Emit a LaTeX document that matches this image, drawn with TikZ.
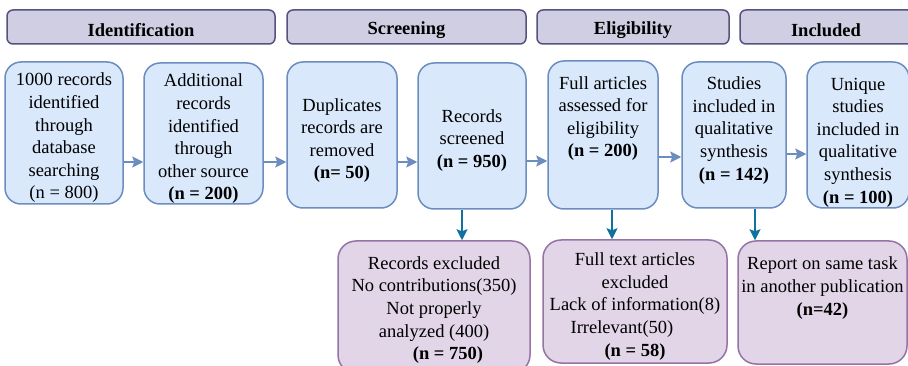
\documentclass[tikz,border=0pt]{standalone}
\usepackage{fontspec}
\setmainfont{Liberation Serif}
\usetikzlibrary{arrows.meta}
\definecolor{bfill}{HTML}{DAE8FC}
\definecolor{bdraw}{HTML}{6C8EBF}
\definecolor{hfill}{HTML}{D0CEE2}
\definecolor{hdraw}{HTML}{56517E}
\definecolor{pfill}{HTML}{E1D5E7}
\definecolor{pdraw}{HTML}{9673A6}
\definecolor{darr}{HTML}{10739E}
\tikzset{
  hdr/.style={draw=hdraw, fill=hfill, line width=1.5pt, rounded corners=6pt},
  bluebox/.style={draw=bdraw, fill=bfill, line width=1.5pt, rounded corners=16pt},
  purpbox/.style={draw=pdraw, fill=pfill, line width=1.5pt, rounded corners=18pt},
  txt/.style={inner sep=0pt, align=center, font=\fontsize{18.5}{22.6}\selectfont},
  htxt/.style={inner sep=0pt, font=\fontsize{18.5}{22.6}\selectfont\bfseries},
  harrow/.style={draw=bdraw, line width=1.5pt, -{Stealth[length=11pt,width=11pt,inset=2pt]}},
  varrow/.style={draw=darr, line width=1.5pt, -{Stealth[length=11pt,width=11pt,inset=2pt]}},
}
\begin{document}
\begin{tikzpicture}[x=1pt,y=-1pt]
\useasboundingbox (0,0) rectangle (908,366);
\begin{scope}
\clip (0,0) rectangle (908,366);
% headers
\draw[hdr] (7,10) rectangle (275,44);
\draw[hdr] (287,10) rectangle (526,44);
\draw[hdr] (537,10) rectangle (729,44);
\draw[hdr] (740,10) rectangle (920,44);
\node[htxt] (h1) at (141,30) {Identification};
\node[htxt] (h2) at (406.5,30) {Screening};
\node[htxt] (h3) at (633,30) {Eligibility};
\node[htxt] (h4) at (826,30) {Included};
% top boxes
\node[bluebox, minimum width=118pt, minimum height=142pt] (b1) at (64,133) {};
\node[bluebox, minimum width=119pt, minimum height=141pt] (b2) at (203.5,133.5) {};
\node[bluebox, minimum width=110pt, minimum height=146pt] (b3) at (342,135) {};
\node[bluebox, minimum width=108pt, minimum height=146pt] (b4) at (472,136) {};
\node[bluebox, minimum width=110pt, minimum height=148pt] (b5) at (603,135) {};
\node[bluebox, minimum width=104pt, minimum height=146pt] (b6) at (734,135) {};
\node[bluebox, minimum width=102pt, minimum height=146pt] (b7) at (858,135) {};
\node[txt] (t1) at (64,138) {1000 records\\identified\\through\\database\\searching\\(n = 800)};
\node[txt] (t2) at (203.5,139) {Additional\\records\\identified\\through\\other source\\\textbf{(n = 200)}};
\node[txt] (t3) at (342,140.5) {Duplicates\\records are\\removed\\\textbf{(n= 50)}};
\node[txt] (t4) at (472,140.5) {Records\\screened\\\textbf{(n = 950)}};
\node[txt] (t5) at (603,118.5) {Full articles\\assessed for\\eligibility\\\textbf{(n = 200)}};
\node[txt] (t6) at (734,130.5) {Studies\\included in\\qualitative\\synthesis\\\textbf{(n = 142)}};
\node[txt] (t7) at (858,142.5) {Unique\\studies\\included in\\qualitative\\synthesis\\\textbf{(n = 100)}};
% bottom boxes
\node[purpbox, minimum width=192pt, minimum height=132pt] (pa) at (434,307) {};
\node[purpbox, minimum width=184pt, minimum height=123pt] (pb) at (635,301.5) {};
\node[purpbox, minimum width=169pt, minimum height=123pt] (pc) at (822.5,302.5) {};
\node[txt] (ta) at (434,310) {Records excluded\\No contributions(350)\\Not properly\\analyzed (400)\\\hspace*{28pt}\textbf{(n = 750)}};
\node[txt] (tb) at (635,306.5) {Full text articles\\excluded\\Lack of information(8)\\\hspace*{-26pt}Irrelevant(50)\\\textbf{(n = 58)}};
\node[txt] (tc) at (822.5,288) {Report on same task\\in another publication\\\textbf{(n=42)}};
% horizontal arrows
\draw[harrow] (b1.east |- 0,162) -- (b2.west |- 0,162);
\draw[harrow] (b2.east |- 0,162) -- (b3.west |- 0,162);
\draw[harrow] (b3.east |- 0,162) -- (b4.west |- 0,162);
\draw[harrow] (b4.east |- 0,161) -- (b5.west |- 0,161);
\draw[harrow] (b5.east |- 0,157) -- (b6.west |- 0,157);
\draw[harrow] (b6.east |- 0,154) -- (b7.west |- 0,154);
% vertical arrows
\draw[varrow] (b4.south -| 462,0) -- (pa.north -| 462,0);
\draw[varrow] (b5.south -| 612,0) -- (pb.north -| 612,0);
\draw[varrow] (b6.south -| 755,0) -- (pc.north -| 755,0);
\end{scope}
\end{tikzpicture}
\end{document}
